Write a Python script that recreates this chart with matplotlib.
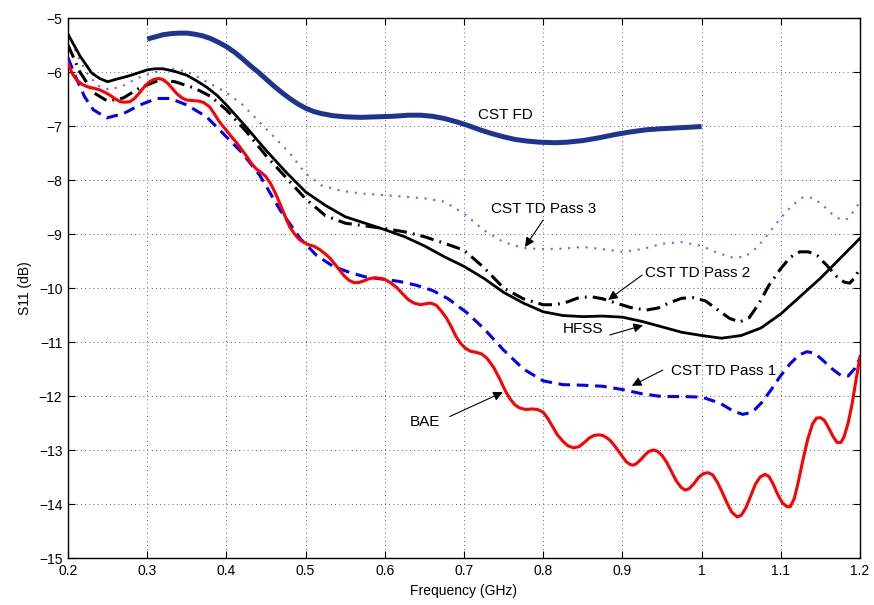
import matplotlib
matplotlib.use("Agg")
import matplotlib.pyplot as plt

plt.rcParams['font.family'] = ['Liberation Sans', 'DejaVu Sans']

# ---------------- data ----------------
cstfd_f = [0.300, 0.310, 0.320, 0.330, 0.340, 0.350, 0.360, 0.370, 0.380, 0.390, 0.400, 0.410, 0.420,
           0.430, 0.440, 0.450, 0.460, 0.470, 0.480, 0.490, 0.500, 0.510, 0.520, 0.535, 0.550, 0.570,
           0.590, 0.610, 0.630, 0.645, 0.660, 0.675, 0.690, 0.705, 0.720, 0.735, 0.750, 0.765, 0.780,
           0.796, 0.815, 0.830, 0.850, 0.870, 0.890, 0.910, 0.930, 0.950, 0.975, 1.000]
cstfd_s = [-5.39, -5.35, -5.31, -5.29, -5.28, -5.28, -5.30, -5.33, -5.38, -5.45, -5.53, -5.63, -5.75,
           -5.88, -6.00, -6.13, -6.26, -6.38, -6.49, -6.59, -6.67, -6.73, -6.77, -6.81, -6.83, -6.84,
           -6.83, -6.82, -6.80, -6.80, -6.82, -6.86, -6.92, -6.99, -7.07, -7.14, -7.20, -7.25, -7.28,
           -7.30, -7.31, -7.30, -7.27, -7.22, -7.16, -7.11, -7.07, -7.05, -7.03, -7.01]

hfss_f = [0.200, 0.215, 0.230, 0.240, 0.250, 0.262, 0.275, 0.288, 0.300, 0.310, 0.320, 0.335, 0.350,
          0.362, 0.375, 0.388, 0.400, 0.425, 0.450, 0.475, 0.500, 0.525, 0.550, 0.575, 0.600, 0.625,
          0.650, 0.675, 0.700, 0.725, 0.750, 0.775, 0.800, 0.825, 0.850, 0.875, 0.900, 0.925, 0.950,
          0.975, 1.000, 1.025, 1.050, 1.075, 1.100, 1.125, 1.150, 1.175, 1.200]
hfss_s = [-5.30, -5.70, -6.02, -6.12, -6.18, -6.13, -6.08, -6.02, -5.96, -5.94, -5.94, -5.99, -6.06,
          -6.16, -6.28, -6.43, -6.61, -7.02, -7.45, -7.85, -8.22, -8.47, -8.68, -8.80, -8.92, -9.05,
          -9.22, -9.42, -9.60, -9.82, -10.08, -10.28, -10.44, -10.51, -10.53, -10.52, -10.54, -10.62,
          -10.72, -10.82, -10.88, -10.93, -10.88, -10.74, -10.48, -10.15, -9.82, -9.45, -9.08]

pass2_f = [0.200, 0.215, 0.232, 0.250, 0.270, 0.290, 0.315, 0.335, 0.360, 0.380, 0.400, 0.425, 0.450,
           0.475, 0.500, 0.525, 0.550, 0.575, 0.600, 0.625, 0.650, 0.675, 0.700, 0.725, 0.750, 0.775,
           0.800, 0.815, 0.830, 0.845, 0.860, 0.875, 0.890, 0.910, 0.930, 0.945, 0.960, 0.975, 0.990,
           1.005, 1.020, 1.035, 1.048, 1.060, 1.072, 1.085, 1.100, 1.112, 1.124, 1.135, 1.146, 1.158,
           1.170, 1.180, 1.187, 1.194, 1.200]
pass2_s = [-5.50, -6.00, -6.38, -6.54, -6.48, -6.30, -6.15, -6.18, -6.30, -6.45, -6.70, -7.10, -7.55,
           -7.95, -8.35, -8.66, -8.80, -8.85, -8.90, -8.96, -9.05, -9.17, -9.30, -9.62, -10.00, -10.20,
           -10.31, -10.31, -10.26, -10.18, -10.16, -10.20, -10.27, -10.36, -10.41, -10.37, -10.27, -10.19,
           -10.18, -10.24, -10.40, -10.56, -10.63, -10.55, -10.30, -9.95, -9.64, -9.43, -9.33, -9.33,
           -9.40, -9.58, -9.78, -9.89, -9.91, -9.80, -9.62]

pass3_f = [0.200, 0.212, 0.224, 0.237, 0.253, 0.270, 0.290, 0.305, 0.329, 0.350, 0.375, 0.400, 0.420,
           0.440, 0.460, 0.480, 0.500, 0.520, 0.545, 0.570, 0.600, 0.625, 0.650, 0.675, 0.700, 0.725,
           0.750, 0.775, 0.800, 0.825, 0.850, 0.875, 0.900, 0.925, 0.950, 0.975, 1.000, 1.020, 1.040,
           1.055, 1.070, 1.085, 1.100, 1.115, 1.128, 1.140, 1.152, 1.164, 1.176, 1.184, 1.192, 1.200]
pass3_s = [-5.28, -5.70, -6.02, -6.25, -6.33, -6.25, -6.10, -6.02, -5.93, -5.99, -6.18, -6.38, -6.60,
           -6.90, -7.20, -7.50, -7.88, -8.10, -8.20, -8.25, -8.28, -8.31, -8.34, -8.40, -8.62, -8.93,
           -9.15, -9.26, -9.28, -9.27, -9.24, -9.28, -9.33, -9.28, -9.18, -9.15, -9.22, -9.35, -9.44,
           -9.42, -9.25, -8.98, -8.70, -8.46, -8.32, -8.33, -8.45, -8.62, -8.74, -8.72, -8.58, -8.40]

pass1_f = [0.200, 0.210, 0.221, 0.232, 0.249, 0.270, 0.291, 0.312, 0.329, 0.350, 0.375, 0.400, 0.420,
           0.442, 0.468, 0.493, 0.514, 0.535, 0.557, 0.577, 0.600, 0.619, 0.640, 0.661, 0.680, 0.703,
           0.725, 0.750, 0.775, 0.800, 0.825, 0.850, 0.875, 0.900, 0.925, 0.950, 0.975, 1.000, 1.023,
           1.040, 1.052, 1.064, 1.076, 1.088, 1.100, 1.112, 1.123, 1.133, 1.143, 1.154, 1.165, 1.176,
           1.185, 1.193, 1.200]
pass1_s = [-5.74, -6.10, -6.46, -6.70, -6.85, -6.77, -6.61, -6.49, -6.49, -6.61, -6.83, -7.20, -7.50,
           -7.91, -8.56, -9.08, -9.40, -9.60, -9.72, -9.80, -9.84, -9.88, -9.95, -10.05, -10.20, -10.45,
           -10.75, -11.15, -11.50, -11.72, -11.79, -11.80, -11.82, -11.88, -11.96, -12.01, -12.01, -12.02,
           -12.13, -12.28, -12.34, -12.30, -12.12, -11.88, -11.62, -11.40, -11.24, -11.18, -11.21, -11.35,
           -11.50, -11.62, -11.63, -11.50, -11.30]

bae_f = [0.200, 0.205, 0.211, 0.218, 0.224, 0.232, 0.240, 0.247, 0.253, 0.260, 0.266, 0.272, 0.278,
         0.284, 0.290, 0.296, 0.302, 0.308, 0.314, 0.320, 0.326, 0.332, 0.338, 0.344, 0.350, 0.358,
         0.366, 0.372, 0.379, 0.385, 0.392, 0.400, 0.407, 0.413, 0.420, 0.426, 0.432, 0.438, 0.444,
         0.450, 0.456, 0.462, 0.468, 0.474, 0.480, 0.486, 0.492, 0.497, 0.504, 0.511, 0.518, 0.525,
         0.531, 0.537, 0.543, 0.549, 0.555, 0.561, 0.567, 0.573, 0.580, 0.587, 0.594, 0.600, 0.607,
         0.615, 0.622, 0.630, 0.637, 0.645, 0.652, 0.658, 0.665, 0.671, 0.678, 0.684, 0.690, 0.696,
         0.702, 0.708, 0.715, 0.722, 0.729, 0.737, 0.745, 0.752, 0.758, 0.764, 0.770, 0.778, 0.786,
         0.793, 0.800, 0.806, 0.812, 0.818, 0.825, 0.831, 0.838, 0.845, 0.852, 0.858, 0.864, 0.870,
         0.875, 0.880, 0.885, 0.890, 0.895, 0.900, 0.905, 0.910, 0.914, 0.918, 0.923, 0.928, 0.933,
         0.939, 0.944, 0.950, 0.956, 0.962, 0.968, 0.974, 0.979, 0.984, 0.990, 0.996, 1.002, 1.008,
         1.014, 1.020, 1.026, 1.032, 1.038, 1.045, 1.050, 1.056, 1.062, 1.068, 1.074, 1.080, 1.085,
         1.090, 1.096, 1.102, 1.108, 1.112, 1.117, 1.122, 1.128, 1.134, 1.140, 1.145, 1.150, 1.155,
         1.160, 1.166, 1.171, 1.176, 1.180, 1.185, 1.190, 1.195, 1.200]
bae_s = [-5.84, -6.02, -6.15, -6.23, -6.27, -6.30, -6.33, -6.38, -6.43, -6.50, -6.55, -6.56, -6.55,
         -6.49, -6.39, -6.28, -6.19, -6.14, -6.12, -6.14, -6.21, -6.31, -6.41, -6.48, -6.52, -6.53,
         -6.54, -6.57, -6.65, -6.78, -6.94, -7.08, -7.21, -7.31, -7.45, -7.57, -7.70, -7.80, -7.86,
         -7.94, -8.07, -8.25, -8.45, -8.67, -8.87, -9.00, -9.10, -9.15, -9.20, -9.23, -9.29, -9.37,
         -9.45, -9.56, -9.67, -9.78, -9.86, -9.90, -9.90, -9.87, -9.83, -9.81, -9.82, -9.84, -9.90,
         -9.99, -10.10, -10.22, -10.28, -10.31, -10.29, -10.28, -10.32, -10.42, -10.56, -10.72, -10.90,
         -11.03, -11.12, -11.17, -11.19, -11.22, -11.30, -11.46, -11.68, -11.90, -12.05, -12.16, -12.22,
         -12.25, -12.24, -12.25, -12.30, -12.42, -12.57, -12.72, -12.84, -12.92, -12.96, -12.94, -12.86,
         -12.78, -12.73, -12.72, -12.73, -12.77, -12.83, -12.92, -13.02, -13.12, -13.22, -13.27, -13.28,
         -13.25, -13.18, -13.10, -13.03, -13.00, -13.02, -13.10, -13.23, -13.40, -13.57, -13.69, -13.74,
         -13.72, -13.63, -13.51, -13.44, -13.42, -13.46, -13.60, -13.78, -13.98, -14.15, -14.24, -14.21,
         -14.07, -13.85, -13.63, -13.50, -13.45, -13.49, -13.62, -13.82, -13.98, -14.05, -14.05, -13.90,
         -13.60, -13.18, -12.80, -12.52, -12.41, -12.40, -12.45, -12.58, -12.75, -12.86, -12.86, -12.75,
         -12.50, -12.15, -11.70, -11.27]

x_ticks = [0.2, 0.3, 0.4, 0.5, 0.6, 0.7, 0.8, 0.9, 1.0, 1.1, 1.2]
x_ticklabels = ["0.2", "0.3", "0.4", "0.5", "0.6", "0.7", "0.8", "0.9", "1", "1.1", "1.2"]
y_ticks = [-15, -14, -13, -12, -11, -10, -9, -8, -7, -6, -5]

# ---------------- figure ----------------
fig = plt.figure(figsize=(8.74, 6.05), dpi=100)
ax = fig.add_axes([68/874, 1-558/605, (860-68)/874, (558-18)/605])

common = dict(solid_joinstyle='round', dash_joinstyle='round')
ax.plot(cstfd_f, cstfd_s, color='#1c3592', lw=3.6, solid_capstyle='butt', zorder=5, **common)
ax.plot(pass3_f, pass3_s, color='#8f55ee', lw=1.5, linestyle=(0, (1.0, 3.2)), dash_capstyle='butt', zorder=3, **common)
ax.plot(pass2_f, pass2_s, color='black', lw=2.2, linestyle=(0, (4.5, 2.0, 0.6, 2.0)), dash_capstyle='butt', zorder=4, **common)
ax.plot(hfss_f, hfss_s, color='black', lw=2.0, zorder=4, **common)
ax.plot(pass1_f, pass1_s, color='#0000ff', lw=2.2, linestyle=(0, (3.8, 2.2)), dash_capstyle='butt', zorder=4, **common)
ax.plot(bae_f, bae_s, color='#ff0000', lw=2.2, zorder=5, **common)

ax.set_xlim(0.2, 1.2)
ax.set_ylim(-15, -5)
ax.set_xticks(x_ticks)
ax.set_xticklabels(x_ticklabels)
ax.set_yticks(y_ticks)
ax.tick_params(direction='in', top=True, right=True, labelsize=10, length=5, width=0.8, pad=4)
ax.grid(True, color='black', linestyle=(0, (1, 4)), linewidth=0.6, alpha=0.8)
for sp in ax.spines.values():
    sp.set_linewidth(1.0)

ax.set_xlabel("Frequency (GHz)", fontsize=10, labelpad=5)
ax.set_ylabel("S11 (dB)", fontsize=10, labelpad=5)

fs = 11
ap = dict(arrowstyle='-|>', color='black', lw=0.8, mutation_scale=14, shrinkA=0, shrinkB=0)
ax.text(0.752, -6.80, "CST FD", fontsize=fs, ha='center', va='center')
ax.text(0.80, -8.54, "CST TD Pass 3", fontsize=fs, ha='center', va='center')
ax.annotate("", xy=(0.777, -9.24), xytext=(0.80, -8.74), arrowprops=ap)
ax.text(0.995, -9.72, "CST TD Pass 2", fontsize=fs, ha='center', va='center')
ax.annotate("", xy=(0.882, -10.22), xytext=(0.925, -9.76), arrowprops=ap)
ax.text(0.85, -10.76, "HFSS", fontsize=fs, ha='center', va='center')
ax.annotate("", xy=(0.926, -10.69), xytext=(0.884, -10.87), arrowprops=ap)
ax.text(1.028, -11.54, "CST TD Pass 1", fontsize=fs, ha='center', va='center')
ax.annotate("", xy=(0.912, -11.81), xytext=(0.951, -11.52), arrowprops=ap)
ax.text(0.651, -12.48, "BAE", fontsize=fs, ha='center', va='center')
ax.annotate("", xy=(0.749, -11.93), xytext=(0.682, -12.38), arrowprops=ap)

fig.savefig("out.png", dpi=100)
